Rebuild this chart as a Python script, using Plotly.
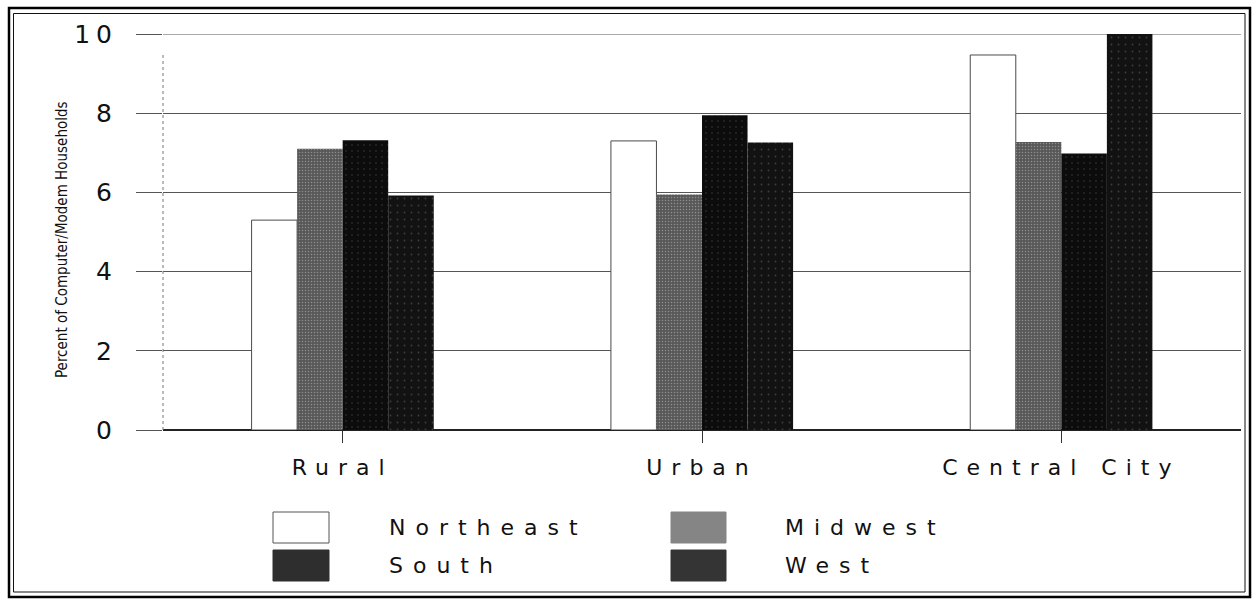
import plotly.graph_objects as go

# ---------------- data ----------------
categories = ["Rural", "Urban", "Central City"]
series_names = ["Northeast", "Midwest", "South", "West"]
northeast = [5.3, 7.3, 9.47]
midwest = [7.1, 5.95, 7.27]
south = [7.32, 7.95, 6.98]
west = [5.92, 7.26, 10.0]
y_ticks = [0, 2, 4, 6, 8, 10]
y_title = "Percent of Computer/Modem Households"

series_values = [northeast, midwest, south, west]

# ---------------- geometry / styles ----------------
W, H = 1253, 599
ML, MR, MT, MB = 163, 12, 34, 169
PW, PH = W - ML - MR, H - MT - MB


def px_x(px):
    return (px - ML) / PW


def px_y(py):
    return (H - MB - py) / PH


bar_fill = {"Northeast": "#ffffff", "Midwest": "#585858", "South": "#0c0c0c", "West": "#121212"}
bar_pattern = {
    "Northeast": None,
    "Midwest": dict(shape=".", fgcolor="#c4c4c4", size=3, solidity=0.2),
    "South": dict(shape=".", fgcolor="#6a6a6a", size=6, solidity=0.05),
    "West": dict(shape=".", fgcolor="#6a6a6a", size=7, solidity=0.05),
}
legend_fill = {"Northeast": "#ffffff", "Midwest": "#858585", "South": "#2e2e2e", "West": "#343434"}

SP = "letter-spacing:{}px"


def spaced(text, s):
    return f"<span style='{SP.format(s)}'>{text}</span>"


fig = go.Figure()
for name, vals in zip(series_names, series_values):
    marker = dict(color=bar_fill[name])
    if name == "Northeast":
        marker["line"] = dict(color="#4a4a4a", width=1)
    else:
        marker["line"] = dict(color=bar_fill[name], width=0)
    if bar_pattern[name]:
        marker["pattern"] = bar_pattern[name]
    fig.add_trace(go.Bar(x=categories, y=vals, name=name, marker=marker, showlegend=False))

fig.update_layout(
    width=W, height=H,
    margin=dict(l=ML, r=MR, t=MT, b=MB, pad=0),
    paper_bgcolor="white", plot_bgcolor="white",
    barmode="group", bargap=0.493, bargroupgap=0,
    font=dict(family="DejaVu Sans, Arial, sans-serif", color="#111"),
)

fig.update_xaxes(
    type="category",
    tickvals=categories,
    ticktext=[spaced(c, 9) for c in categories],
    tickfont=dict(size=22, family="DejaVu Sans, Arial, sans-serif", color="#111"),
    ticks="outside", ticklen=12, tickcolor="#333", tickwidth=1,
    showgrid=False, showline=False, zeroline=False,
    ticklabelstandoff=6,
)

fig.update_yaxes(
    range=[0, 10],
    tickvals=y_ticks,
    ticktext=[spaced(v, 6) for v in y_ticks],
    tickfont=dict(size=25, family="DejaVu Sans, Arial, sans-serif", color="#111"),
    ticks="outside", ticklen=26, tickcolor="#555", tickwidth=1,
    showgrid=True, gridcolor="#555", gridwidth=1,
    zeroline=True, zerolinecolor="#222", zerolinewidth=1.5,
    showline=False,
    ticklabelstandoff=13,
)

shapes = []
# top gridline (Plotly hides gridlines lying on the plot edge)
shapes.append(dict(type="line", xref="paper", yref="y", x0=0, x1=1, y0=y_ticks[-1], y1=y_ticks[-1],
                   line=dict(color="#555", width=1), layer="below"))
# y-axis dotted line
shapes.append(dict(type="line", xref="paper", yref="paper", x0=0, x1=0, y0=0, y1=px_y(55),
                   line=dict(color="#777", width=1, dash="dot")))
# double frame
shapes.append(dict(type="rect", xref="paper", yref="paper",
                   x0=px_x(9), x1=px_x(1250), y0=px_y(597), y1=px_y(8),
                   line=dict(color="#000", width=2.5)))
shapes.append(dict(type="rect", xref="paper", yref="paper",
                   x0=px_x(13.5), x1=px_x(1245), y0=px_y(592), y1=px_y(13.5),
                   line=dict(color="#111", width=1)))

annotations = [
    dict(text=y_title, xref="paper", yref="paper", x=px_x(62), y=px_y(240),
         xanchor="center", yanchor="middle", textangle=-90, showarrow=False,
         font=dict(family="Liberation Sans Narrow, DejaVu Sans Condensed, Arial Narrow, sans-serif",
                   size=15, color="#111")),
]

# manual legend (2 x 2)
legend_slots = {
    "Northeast": (273, 329, 512, 543, 387),
    "Midwest": (671, 726, 512, 543, 783),
    "South": (273, 329, 550, 581, 387),
    "West": (671, 726, 550, 581, 783),
}
for name in series_names:
    x0, x1, y0, y1, tx = legend_slots[name]
    shapes.append(dict(type="rect", xref="paper", yref="paper",
                       x0=px_x(x0), x1=px_x(x1), y0=px_y(y1), y1=px_y(y0),
                       fillcolor=legend_fill[name],
                       line=dict(color="#555" if name == "Northeast" else legend_fill[name], width=1)))
    annotations.append(dict(text=spaced(name, 10), xref="paper", yref="paper",
                            x=px_x(tx), y=px_y((y0 + y1) / 2), xanchor="left", yanchor="middle",
                            showarrow=False,
                            font=dict(family="DejaVu Sans, Arial, sans-serif", size=22, color="#111")))

fig.update_layout(shapes=shapes, annotations=annotations)

fig.write_html("out.html", config={"displayModeBar": False},
               post_script="document.body.style.margin='0';")
